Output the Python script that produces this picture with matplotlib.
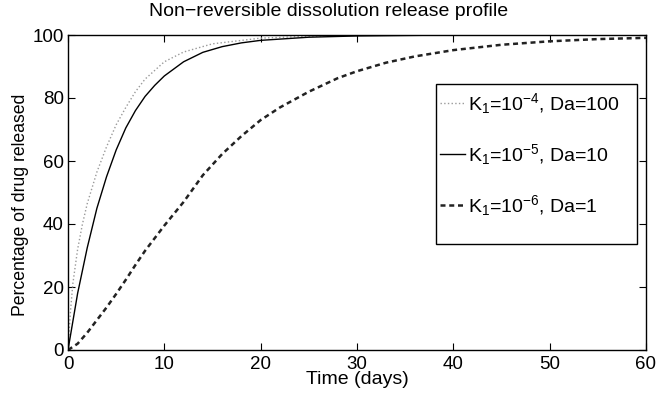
import numpy as np
import matplotlib
matplotlib.use("Agg")
import matplotlib.pyplot as plt
from matplotlib.patches import Rectangle

plt.rcParams['font.family'] = ['Liberation Sans', 'DejaVu Sans']
plt.rcParams['mathtext.fontset'] = 'custom'
plt.rcParams['mathtext.rm'] = 'Liberation Sans'
plt.rcParams['mathtext.it'] = 'Liberation Sans:italic'

# Data (time in days, % released)
t_fast = [0, 0.25, 0.5, 1, 1.5, 2, 3, 4, 5, 6, 7, 8, 10, 12, 15, 20, 25, 30, 40, 60]
v_fast = [0, 12, 21, 32, 40, 46.5, 56.5, 64.5, 71.5, 77, 82, 86, 91.5, 94.6, 97.2, 99, 99.6, 99.9, 100, 100]

t_mid = [0, 1, 2, 3, 4, 5, 6, 7, 8, 9, 10, 12, 14, 16, 18, 20, 25, 30, 40, 50, 60]
v_mid = [0, 18, 32.5, 45, 55, 63.5, 70.5, 76, 80.5, 84, 87, 91.5, 94.5, 96.3, 97.5, 98.3, 99.3, 99.7, 100, 100, 100]

t_slow = [0, 1, 2, 3, 4, 5, 6, 7, 8, 9, 10, 12, 14, 16, 18, 20, 22, 25, 28, 30, 33, 36, 40, 45, 50, 55, 60]
v_slow = [0, 2.0, 5.5, 9.5, 13.5, 17.8, 22.3, 27, 31.5, 35.5, 39.5, 47, 55.5, 62.2, 67.9, 73, 77, 82, 86.3, 88.5,
          91.2, 93.2, 95.2, 96.9, 98.0, 98.7, 99.1]

labels = [r'K$_1$=10$^{-4}$, Da=100', r'K$_1$=10$^{-5}$, Da=10', r'K$_1$=10$^{-6}$, Da=1']

fig = plt.figure(figsize=(6.57, 3.94), dpi=100)
ax = fig.add_axes([68/657, 44/394, 578/657, 315/394])

ax.plot(t_fast, v_fast, color='#9a9a9a', linestyle=':', linewidth=1.0, label=labels[0])
ax.plot(t_mid, v_mid, color='k', linestyle='-', linewidth=1.0, label=labels[1])
ax.plot(t_slow, v_slow, color='#222222', linestyle=(0, (2, 1.5)), linewidth=1.8, label=labels[2])

ax.set_xlim(0, 60)
ax.set_ylim(0, 100)
ax.set_xticks([0, 10, 20, 30, 40, 50, 60])
ax.set_yticks([0, 20, 40, 60, 80, 100])
ax.tick_params(direction='in', top=True, right=True, length=5, width=0.8, labelsize=13.5)
ax.tick_params(axis='x', pad=4)
ax.tick_params(axis='y', pad=3)
for s in ax.spines.values():
    s.set_linewidth(1.0)

ax.set_xlabel('Time (days)', fontsize=14, labelpad=-1)
ax.set_ylabel('Percentage of drug released', fontsize=12.7)
ax.yaxis.set_label_coords(-0.068, 0.46)
fig.text(0.5, 1 - 12/394, 'Non\u2212reversible dissolution release profile', ha='center', va='center', fontsize=14)

leg = ax.legend(loc='upper left', bbox_to_anchor=(436/657, 1 - 87/394), bbox_transform=fig.transFigure,
                frameon=False, fontsize=14, handlelength=1.3, handletextpad=0.15, labelspacing=1.35,
                borderpad=0.2, borderaxespad=0)
fig.patches.append(Rectangle((436/657, 1 - 244/394), 201/657, 160/394, transform=fig.transFigure,
                             fill=False, edgecolor='k', linewidth=1.0, zorder=5))

fig.savefig('out.png', dpi=100)
